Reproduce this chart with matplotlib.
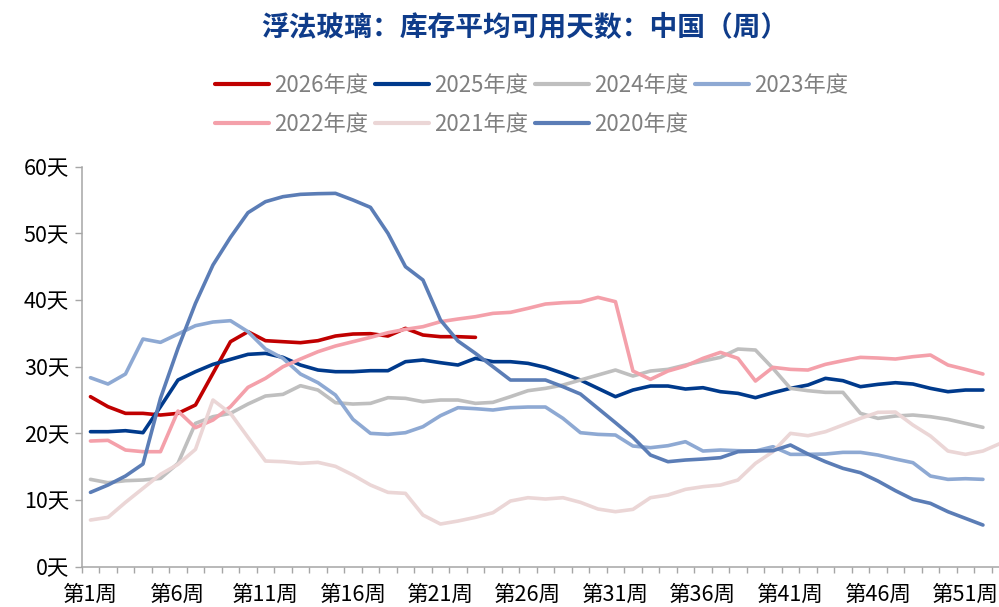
import matplotlib
matplotlib.use('Agg')
import matplotlib.pyplot as plt

plt.rcParams['font.family'] = ['Noto Sans CJK SC', 'DejaVu Sans']

# 周次标签
semanas = [f'第{i}周' for i in range(1, 54)]

# 各年度库存平均可用天数
d2026 = [25.5, 24.0, 23.0, 23.0, 22.75, 23.0, 24.25, 29.0, 33.75, 35.25, 33.9, 33.75, 33.6, 33.9, 34.6,
         34.9, 34.95, 34.6, 35.75, 34.75, 34.5, 34.5, 34.4]
d2025 = [20.25, 20.25, 20.4, 20.1, 24.0, 28.0, 29.25, 30.35, 31.1, 31.85, 32.0, 31.4, 30.25, 29.5, 29.25,
         29.25, 29.4, 29.4, 30.75, 31.0, 30.6, 30.25, 31.25, 30.75, 30.75, 30.5, 29.9, 29.0, 28.0, 26.75,
         25.5, 26.5, 27.1, 27.1, 26.65, 26.85, 26.25, 26.0, 25.35, 26.1, 26.75, 27.25, 28.25, 27.9, 27.0,
         27.35, 27.6, 27.4, 26.75, 26.25, 26.5, 26.5]
d2024 = [13.1, 12.6, 12.9, 13.0, 13.25, 15.5, 21.5, 22.5, 23.0, 24.4, 25.6, 25.85, 27.15, 26.5, 24.6,
         24.4, 24.5, 25.35, 25.25, 24.75, 25.0, 25.0, 24.5, 24.65, 25.5, 26.4, 26.75, 27.25, 28.0, 28.75,
         29.5, 28.6, 29.35, 29.6, 30.25, 30.85, 31.4, 32.65, 32.5, 29.75, 26.75, 26.4, 26.15, 26.15, 23.0,
         22.25, 22.6, 22.75, 22.5, 22.1, 21.5, 20.9]
d2023 = [28.35, 27.4, 28.9, 34.15, 33.65, 34.9, 36.15, 36.7, 36.9, 35.25, 32.65, 31.25, 28.9, 27.6, 25.75,
         22.1, 20.0, 19.85, 20.1, 21.0, 22.65, 23.85, 23.7, 23.5, 23.85, 23.95, 23.95, 22.25, 20.1, 19.85,
         19.75, 18.1, 17.85, 18.15, 18.75, 17.35, 17.5, 17.4, 17.35, 18.0, 16.85, 16.85, 16.9, 17.15, 17.15,
         16.75, 16.15, 15.6, 13.6, 13.1, 13.2, 13.1]
d2022 = [18.85, 18.95, 17.5, 17.25, 17.25, 23.35, 20.85, 22.0, 24.0, 26.9, 28.25, 30.0, 31.15, 32.25, 33.1,
         33.75, 34.4, 35.1, 35.6, 36.0, 36.75, 37.15, 37.5, 38.0, 38.15, 38.75, 39.4, 39.6, 39.7, 40.4,
         39.75, 29.35, 28.1, 29.35, 30.1, 31.25, 32.15, 31.25, 27.85, 29.9, 29.6, 29.5, 30.35, 30.9, 31.4,
         31.3, 31.15, 31.5, 31.75, 30.25, 29.6, 28.9]
d2021 = [7.0, 7.4, 9.65, 11.75, 13.85, 15.35, 17.6, 25.0, 23.0, 19.4, 15.85, 15.75, 15.5, 15.65, 15.05,
         13.75, 12.25, 11.15, 11.0, 7.75, 6.4, 6.85, 7.4, 8.1, 9.85, 10.35, 10.15, 10.35, 9.65, 8.65,
         8.25, 8.6, 10.35, 10.75, 11.6, 12.0, 12.25, 13.0, 15.5, 17.25, 20.0, 19.65, 20.25, 21.25, 22.25,
         23.15, 23.2, 21.25, 19.6, 17.35, 16.85, 17.35, 18.5]
d2020 = [11.15, 12.25, 13.6, 15.4, 25.25, 32.75, 39.5, 45.25, 49.4, 53.1, 54.75, 55.5, 55.85, 55.95, 56.0,
         55.0, 53.9, 50.0, 45.0, 43.0, 37.0, 33.85, 32.0, 30.0, 28.0, 28.0, 28.0, 27.0, 25.9, 23.75,
         21.6, 19.4, 16.75, 15.75, 16.0, 16.15, 16.35, 17.25, 17.35, 17.4, 18.25, 16.9, 15.75, 14.75, 14.1,
         12.85, 11.4, 10.1, 9.5, 8.25, 7.25, 6.25]

series = [('2026年度', d2026, '#C00000'),
          ('2025年度', d2025, '#003A8C'),
          ('2024年度', d2024, '#BFBFBF'),
          ('2023年度', d2023, '#8EA9D3'),
          ('2022年度', d2022, '#F4A0AA'),
          ('2021年度', d2021, '#EBD6D6'),
          ('2020年度', d2020, '#5B7DB6')]

fig = plt.figure(figsize=(9.99, 6.07), dpi=100)
ax = fig.add_axes([0.0818, 0.0664, 0.9284, 0.659])

lineas = {}
for nombre, valores, color in series:
    x = list(range(1, len(valores) + 1))
    l, = ax.plot(x, valores, color=color, linewidth=2.6, label=nombre, solid_capstyle='round')
    lineas[nombre] = l

ax.set_xlim(0.5, 53.5)
ax.set_ylim(0, 60)

# 刻度
ax.set_xticks(range(1, 54, 5))
ax.set_xticklabels([semanas[i - 1] for i in range(1, 54, 5)], fontsize=15.5)
ax.set_xticks([i + 0.5 for i in range(0, 54)], minor=True)
ax.tick_params(axis='x', which='major', length=0, pad=12)
ax.tick_params(axis='x', which='minor', length=4.5, width=1, color='#A6A6A6', direction='out')
ax.set_yticks(range(0, 61, 10))
ax.set_yticklabels([f'{v}天' for v in range(0, 61, 10)], fontsize=15.5)
ax.tick_params(axis='y', length=5, width=1, color='#A6A6A6', pad=4)

for lado in ['top', 'right']:
    ax.spines[lado].set_visible(False)
for lado in ['left', 'bottom']:
    ax.spines[lado].set_color('#A6A6A6')
    ax.spines[lado].set_linewidth(1.1)

# 图例 (按行排列)
orden = ['2026年度', '2022年度', '2025年度', '2021年度', '2024年度', '2020年度', '2023年度']
leg = fig.legend([lineas[n] for n in orden], orden, ncol=4, loc='upper left',
                 bbox_to_anchor=(0.215, 0.878), frameon=False, fontsize=16,
                 handlelength=2.45, handletextpad=0.22, columnspacing=0.3,
                 labelspacing=0.72, borderpad=0, borderaxespad=0)
for t in leg.get_texts():
    t.set_color('#808080')
for h in leg.legend_handles:
    h.set_linewidth(3)

fig.text(0.525, 0.954, '浮法玻璃：库存平均可用天数：中国（周）', ha='center', va='center',
         fontsize=20, fontweight='bold', color='#0F3C8A')

fig.savefig('out.png', dpi=100)
